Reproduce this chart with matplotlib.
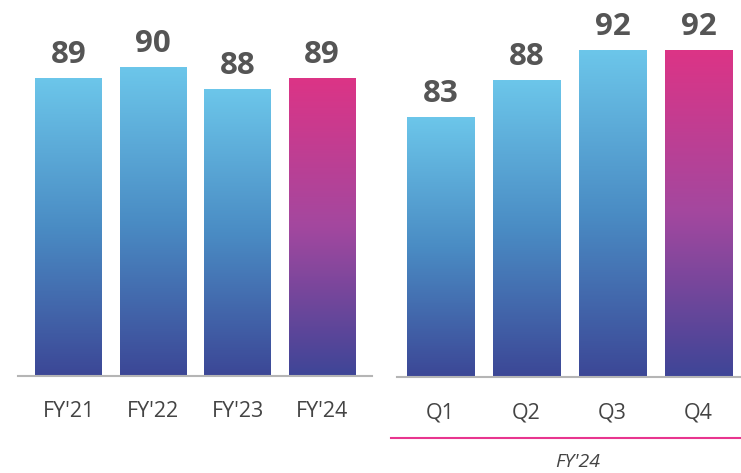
import matplotlib.pyplot as plt
import numpy as np
from matplotlib.colors import LinearSegmentedColormap
from matplotlib.lines import Line2D

plt.rcParams['font.family'] = ['Open Sans', 'DejaVu Sans']

years = ["FY'21", "FY'22", "FY'23", "FY'24"]
year_vals = [89, 90, 88, 89]
quarters = ["Q1", "Q2", "Q3", "Q4"]
quarter_vals = [83, 88, 92, 92]
period_label = "FY'24"

blue = LinearSegmentedColormap.from_list('blue', ['#3c4796', '#4a8cc4', '#6cc6ea'])
pink = LinearSegmentedColormap.from_list('pink', ['#3e4597', '#a3489f', '#dc3486'])
grad = np.linspace(0, 1, 256).reshape(-1, 1)


def draw_bars(ax, labels, vals, ylim, width):
    x = np.arange(len(vals))
    bars = ax.bar(x, np.array(vals) - ylim[0], bottom=ylim[0], width=width,
                  color='none', edgecolor='none')
    for i, (b, v) in enumerate(zip(bars, vals)):
        cmap = pink if i == len(vals) - 1 else blue
        im = ax.imshow(grad, cmap=cmap, origin='lower', aspect='auto',
                       extent=(b.get_x(), b.get_x() + width, ylim[0], v), zorder=2)
        im.set_clip_path(b)
        ax.annotate(str(v), (b.get_x() + width / 2, v), xytext=(0, 6),
                    textcoords='offset points', ha='center', va='bottom',
                    fontsize=22.5, fontweight='bold', color='#555555')
    ax.set_xticks(x)
    ax.set_xticklabels(labels, fontsize=15.5, color='#444444')
    ax.tick_params(axis='x', length=0, pad=18)
    ax.set_yticks([])
    ax.set_ylim(*ylim)
    for s in ['top', 'left', 'right']:
        ax.spines[s].set_visible(False)
    ax.spines['bottom'].set_color('#b5b5b5')
    ax.spines['bottom'].set_linewidth(1.5)


fig = plt.figure(figsize=(7.41, 4.73), dpi=100)
ax1 = fig.add_axes([18 / 741, 97 / 473, 354 / 741, 376 / 473])
ax2 = fig.add_axes([397 / 741, 96 / 473, 344 / 741, 377 / 473])

draw_bars(ax1, years, year_vals, (61.9, 96.1), 0.79)
ax1.set_xlim(-0.6, 3.59)
draw_bars(ax2, quarters, quarter_vals, (48.0, 98.8), 0.78)
ax2.set_xlim(-0.506, 3.494)

fig.add_artist(Line2D([391 / 741, 1.0], [35 / 473, 35 / 473], color='#e8358f', lw=1.5))
fig.text(578 / 741, 11 / 473, period_label, ha='center', va='center',
         fontsize=14, style='italic', color='#444444')

fig.savefig('out.png', dpi=100)
